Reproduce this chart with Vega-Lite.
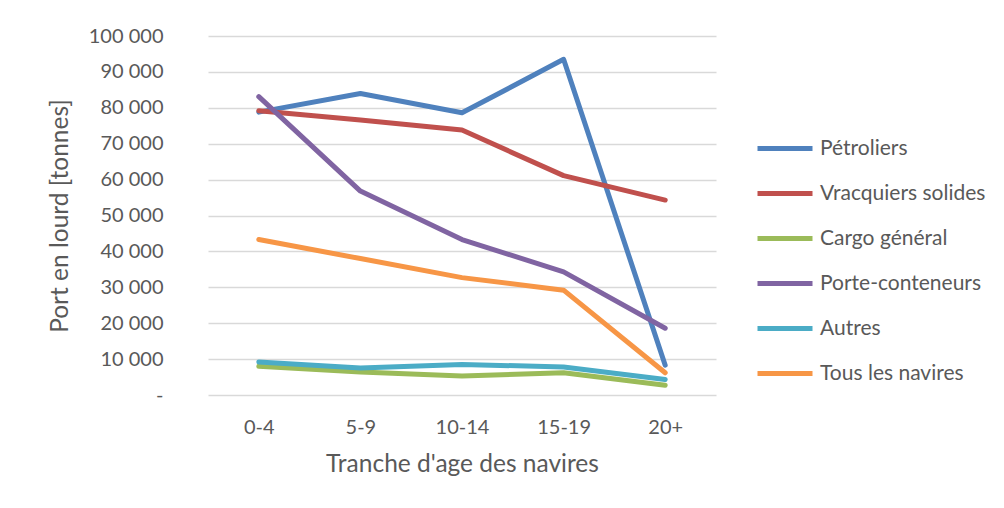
{
  "$schema": "https://vega.github.io/schema/vega-lite/v6.json",
  "autosize": "none",
  "width": 508,
  "height": 359,
  "padding": {"left": 208, "top": 36, "right": 288, "bottom": 113},
  "background": "white",
  "config": {
    "font": "Lato",
    "view": {"stroke": null},
    "axis": {"labelColor": "#595959", "titleColor": "#595959", "labelFont": "Lato", "titleFont": "Lato", "titleFontWeight": "normal"}
  },
  "data": {
    "values": [
      {"age": "0-4", "type": "Pétroliers", "value": 78800},
      {"age": "5-9", "type": "Pétroliers", "value": 84000},
      {"age": "10-14", "type": "Pétroliers", "value": 78600},
      {"age": "15-19", "type": "Pétroliers", "value": 93500},
      {"age": "20+", "type": "Pétroliers", "value": 8300},
      {"age": "0-4", "type": "Vracquiers solides", "value": 79200},
      {"age": "5-9", "type": "Vracquiers solides", "value": 76600},
      {"age": "10-14", "type": "Vracquiers solides", "value": 73800},
      {"age": "15-19", "type": "Vracquiers solides", "value": 61100},
      {"age": "20+", "type": "Vracquiers solides", "value": 54300},
      {"age": "0-4", "type": "Cargo général", "value": 8000},
      {"age": "5-9", "type": "Cargo général", "value": 6400},
      {"age": "10-14", "type": "Cargo général", "value": 5300},
      {"age": "15-19", "type": "Cargo général", "value": 6200},
      {"age": "20+", "type": "Cargo général", "value": 2700},
      {"age": "0-4", "type": "Porte-conteneurs", "value": 83100},
      {"age": "5-9", "type": "Porte-conteneurs", "value": 56800},
      {"age": "10-14", "type": "Porte-conteneurs", "value": 43300},
      {"age": "15-19", "type": "Porte-conteneurs", "value": 34300},
      {"age": "20+", "type": "Porte-conteneurs", "value": 18600},
      {"age": "0-4", "type": "Autres", "value": 9200},
      {"age": "5-9", "type": "Autres", "value": 7500},
      {"age": "10-14", "type": "Autres", "value": 8500},
      {"age": "15-19", "type": "Autres", "value": 7800},
      {"age": "20+", "type": "Autres", "value": 4300},
      {"age": "0-4", "type": "Tous les navires", "value": 43300},
      {"age": "5-9", "type": "Tous les navires", "value": 38000},
      {"age": "10-14", "type": "Tous les navires", "value": 32700},
      {"age": "15-19", "type": "Tous les navires", "value": 29200},
      {"age": "20+", "type": "Tous les navires", "value": 6200}
    ]
  },
  "mark": {"type": "line", "strokeWidth": 5, "strokeCap": "round", "strokeJoin": "round"},
  "encoding": {
    "x": {
      "field": "age",
      "type": "ordinal",
      "sort": ["0-4", "5-9", "10-14", "15-19", "20+"],
      "scale": {"type": "point", "padding": 0.5},
      "axis": {
        "title": "Tranche d'age des navires",
        "labelAngle": 0,
        "labelFontSize": 20,
        "titleFontSize": 24.5,
        "domain": false,
        "ticks": false,
        "grid": false,
        "labelPadding": 22,
        "titlePadding": 15
      }
    },
    "y": {
      "field": "value",
      "type": "quantitative",
      "scale": {"domain": [0, 100000], "nice": false},
      "axis": {
        "title": "Port en lourd [tonnes]",
        "values": [0, 10000, 20000, 30000, 40000, 50000, 60000, 70000, 80000, 90000, 100000],
        "labelExpr": "datum.value == 0 ? '-' : replace(format(datum.value, ','), ',', ' ')",
        "labelFontSize": 20,
        "titleFontSize": 24.5,
        "domain": false,
        "ticks": false,
        "grid": true,
        "gridColor": "#D9D9D9",
        "gridWidth": 1.3,
        "labelPadding": 45,
        "titlePadding": 16
      }
    },
    "color": {
      "field": "type",
      "type": "nominal",
      "sort": ["Pétroliers", "Vracquiers solides", "Cargo général", "Porte-conteneurs", "Autres", "Tous les navires"],
      "scale": {
        "domain": ["Pétroliers", "Vracquiers solides", "Cargo général", "Porte-conteneurs", "Autres", "Tous les navires"],
        "range": ["#4F81BD", "#C0504D", "#9BBB59", "#8064A2", "#4BACC6", "#F79646"]
      },
      "legend": {
        "title": null,
        "orient": "none",
        "legendX": 563.5,
        "legendY": 99,
        "padding": 0,
        "symbolType": "M-2.5,0H2.5",
        "symbolSize": 484,
        "symbolStrokeWidth": 5,
        "labelFontSize": 21,
        "labelColor": "#595959",
        "labelFont": "Lato",
        "labelOffset": 21.5,
        "rowPadding": 21,
        "labelLimit": 300
      }
    }
  }
}
